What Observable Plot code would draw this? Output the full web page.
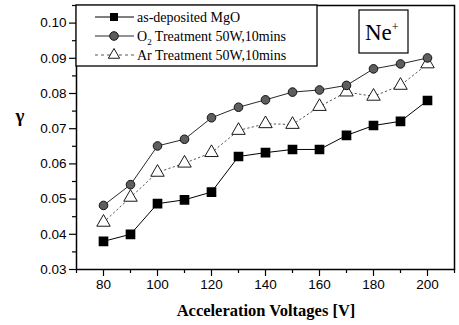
<!DOCTYPE html>
<html>
<head>
<meta charset="utf-8">
<script src="https://cdn.jsdelivr.net/npm/d3@7"></script>
<script src="https://cdn.jsdelivr.net/npm/@observablehq/plot@0.6"></script>
<style>
  html, body { margin: 0; padding: 0; background: #fff; }
  #chart svg { display: block; }
  #chart svg text.serif, #chart svg text.serif tspan { font-family: 'Liberation Serif', 'Times New Roman', serif; }
</style>
</head>
<body>
<div id="chart"></div>
<script>
const voltages = [80, 90, 100, 110, 120, 130, 140, 150, 160, 170, 180, 190, 200];
const asDeposited = [0.038, 0.040, 0.0487, 0.0498, 0.052, 0.0621, 0.0632, 0.0641, 0.0641, 0.0681, 0.0709, 0.0721, 0.078];
const o2Treatment = [0.0482, 0.0541, 0.0651, 0.067, 0.0731, 0.0761, 0.0782, 0.0804, 0.081, 0.0823, 0.087, 0.0884, 0.0901];
const arTreatment = [0.0434, 0.0505, 0.0576, 0.0602, 0.0632, 0.0695, 0.0714, 0.0712, 0.0763, 0.0804, 0.0792, 0.0823, 0.0884];
const seriesNames = ["as-deposited MgO", "O2 Treatment 50W,10mins", "Ar Treatment 50W,10mins"];
const xMajorTicks = [80, 100, 120, 140, 160, 180, 200];
const xMinorTicks = [70, 90, 110, 130, 150, 170, 190, 210];
const yMajorTicks = [0.03, 0.04, 0.05, 0.06, 0.07, 0.08, 0.09, 0.10];
const yMinorTicks = [0.035, 0.045, 0.055, 0.065, 0.075, 0.085, 0.095, 0.105];
const xTitle = "Acceleration Voltages [V]";
const yTitle = "γ";
const ionLabel = "Ne";

const mk = (vals) => voltages.map((v, i) => ({x: v, y: vals[i]}));
const sq = mk(asDeposited), ci = mk(o2Treatment), tr = mk(arTreatment);

const sans = "'Liberation Sans', Arial, sans-serif";

const plot = Plot.plot({
  width: 459,
  height: 325,
  marginLeft: 76,
  marginRight: 5,
  marginTop: 5,
  marginBottom: 56,
  style: {fontFamily: sans, fontSize: "13px", color: "#000", background: "#fff"},
  x: {domain: [70, 210]},
  y: {domain: [0.03, 0.105]},
  marks: [
    Plot.axisX({ticks: xMinorTicks, tickSize: 4, text: null, label: null, strokeWidth: 1.2}),
    Plot.axisX({ticks: xMajorTicks, tickSize: 7, tickPadding: 3, label: null, strokeWidth: 1.2, fontSize: 13.5}),
    Plot.axisY({ticks: yMinorTicks, tickSize: 4, text: null, label: null, strokeWidth: 1.2}),
    Plot.axisY({ticks: yMajorTicks, tickSize: 7, tickPadding: 3, tickFormat: d3.format(".2f"), label: null, strokeWidth: 1.2, fontSize: 13.5}),
    Plot.frame({stroke: "#000", strokeWidth: 1.5}),
    Plot.line(tr, {x: "x", y: "y", stroke: "#444", strokeWidth: 0.9, strokeDasharray: "1.5,3"}),
    Plot.line(ci, {x: "x", y: "y", stroke: "#111", strokeWidth: 0.9}),
    Plot.line(sq, {x: "x", y: "y", stroke: "#000", strokeWidth: 1}),
    Plot.dot(tr, {x: "x", y: "y", symbol: "triangle", r: 5, fill: "#fff", stroke: "#000", strokeWidth: 0.9}),
    Plot.dot(ci, {x: "x", y: "y", symbol: "circle", r: 4.3, fill: "#5e5e5e", stroke: "#111", strokeWidth: 1}),
    Plot.dot(sq, {x: "x", y: "y", symbol: "square", r: 4.6, fill: "#000", stroke: "#000"})
  ]
});

document.getElementById("chart").appendChild(plot);

const svg = d3.select(plot);
const addText = (sel, x, y, size, anchor) => sel.append("text").attr("class", "serif")
  .attr("x", x).attr("y", y)
  .style("font-size", size + "px").style("text-anchor", anchor).style("fill", "#000");

// axis titles
addText(svg, 266, 316, 16.5, "middle").style("font-weight", "bold").text(xTitle);
addText(svg, 20, 122, 19, "middle").style("font-weight", "bold").text(yTitle);

// legend
const lg = svg.append("g");
lg.append("rect").attr("x", 76).attr("y", 5).attr("width", 241).attr("height", 61)
  .attr("fill", "#fff").attr("stroke", "#000").attr("stroke-width", 1.3);
const rows = [17, 36, 55];
lg.append("line").attr("x1", 95).attr("x2", 134).attr("y1", rows[0]).attr("y2", rows[0]).attr("stroke", "#000").attr("stroke-width", 1.2);
lg.append("path").attr("d", d3.symbol(d3.symbolSquare, 64)()).attr("transform", `translate(114,${rows[0]})`).attr("fill", "#000");
lg.append("line").attr("x1", 95).attr("x2", 134).attr("y1", rows[1]).attr("y2", rows[1]).attr("stroke", "#111").attr("stroke-width", 0.9);
lg.append("circle").attr("cx", 114).attr("cy", rows[1]).attr("r", 4.3).attr("fill", "#5e5e5e").attr("stroke", "#111");
lg.append("line").attr("x1", 95).attr("x2", 134).attr("y1", rows[2]).attr("y2", rows[2]).attr("stroke", "#444").attr("stroke-width", 0.9).attr("stroke-dasharray", "3,3");
lg.append("path").attr("d", d3.symbol(d3.symbolTriangle, 55)()).attr("transform", `translate(114,${rows[2]})`).attr("fill", "#fff").attr("stroke", "#000").attr("stroke-width", 0.9);

addText(lg, 137, rows[0] + 5, 14, "start").text(seriesNames[0]);
const t2 = addText(lg, 137, rows[1] + 5, 14, "start");
t2.append("tspan").text("O");
t2.append("tspan").attr("dy", 4).style("font-size", "9px").text("2");
t2.append("tspan").attr("dy", -4).text(" Treatment 50W,10mins");
addText(lg, 137, rows[2] + 5, 14, "start").text(seriesNames[2]);

// Ne+ box
const nb = svg.append("g");
nb.append("rect").attr("x", 359).attr("y", 10).attr("width", 49).attr("height", 43)
  .attr("fill", "#fff").attr("stroke", "#000").attr("stroke-width", 1.2);
const nt = addText(nb, 365, 40, 23, "start").text(ionLabel);
nt.append("tspan").attr("dy", -9).style("font-size", "12px").text("+");
</script>
</body>
</html>
